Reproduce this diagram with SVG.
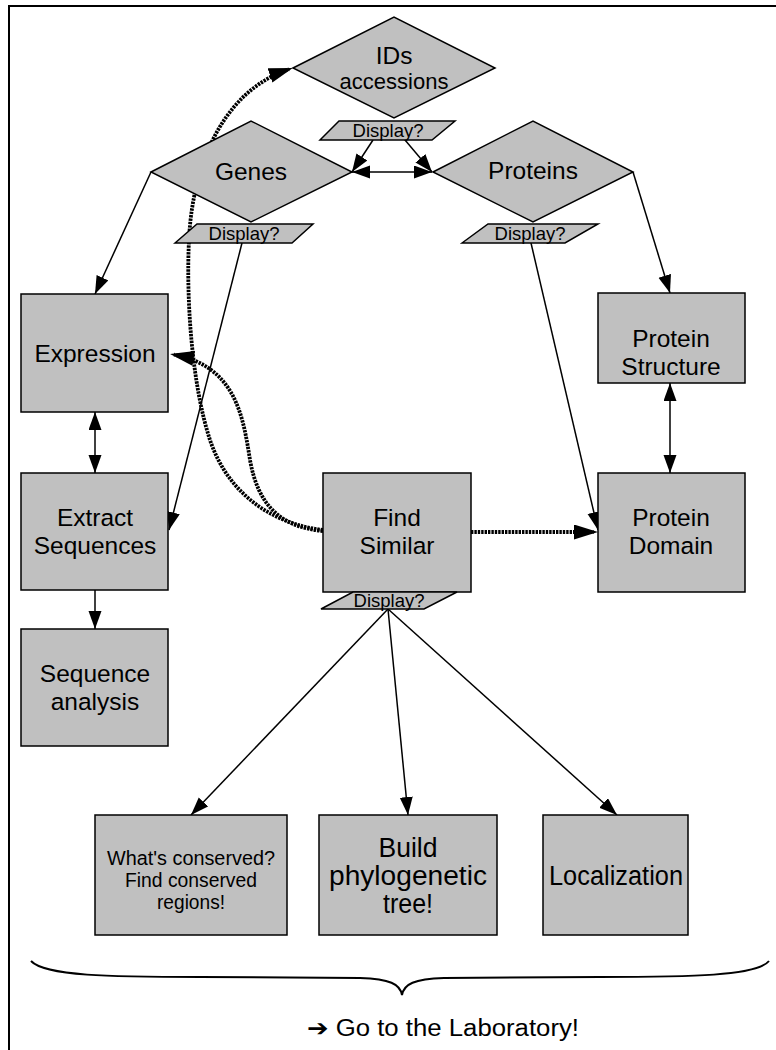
<svg xmlns="http://www.w3.org/2000/svg" width="776" height="1050" viewBox="0 0 776 1050">
<defs>
<marker id="ah" markerUnits="userSpaceOnUse" markerWidth="20" markerHeight="16" refX="18" refY="6.5" orient="auto-start-reverse"><path d="M0,0 L18,6.5 L0,13 z" fill="#000"/></marker>
<marker id="ahd" markerUnits="userSpaceOnUse" markerWidth="26" markerHeight="16" refX="20" refY="7.5" orient="auto"><path d="M0,0 L24,7.5 L0,15 z" fill="#000"/></marker>
<style>
.n{fill:#c0c0c0;stroke:#000;stroke-width:1.5}
.t{font-family:"Liberation Sans",Arial,sans-serif;font-size:24.5px;fill:#000;text-anchor:middle}
.d{font-family:"Liberation Sans",Arial,sans-serif;font-size:18.5px;fill:#000;text-anchor:middle}
.c{fill:none;stroke:#000;stroke-width:1.5}
.a{marker-end:url(#ah)}
.b{marker-start:url(#ah);marker-end:url(#ah)}
.dot{fill:none;stroke:#000;stroke-width:3.8;stroke-dasharray:2.4 1;marker-end:url(#ahd)}
</style>
</defs>
<rect width="776" height="1050" fill="#fff"/>
<path d="M9,1050 V6 H776" fill="none" stroke="#000" stroke-width="2"/>

<g id="connectors">
<line class="c a" x1="373" y1="140" x2="352" y2="172"/>
<line class="c a" x1="405" y1="140" x2="432" y2="172"/>
<line class="c b" x1="352" y1="172" x2="432" y2="172"/>
<line class="c a" x1="151" y1="172" x2="95" y2="294"/>
<line class="c a" x1="242" y1="243" x2="169" y2="530"/>
<line class="c a" x1="531" y1="243" x2="598" y2="530"/>
<line class="c a" x1="633" y1="172" x2="670" y2="293"/>
<line class="c b" x1="95" y1="412" x2="95" y2="473"/>
<line class="c a" x1="95" y1="590" x2="95" y2="629"/>
<line class="c b" x1="670" y1="383" x2="670" y2="473"/>
<line class="c a" x1="388" y1="609" x2="191" y2="815"/>
<line class="c a" x1="388" y1="609" x2="408" y2="815"/>
<line class="c a" x1="388" y1="609" x2="617" y2="815"/>
<path class="dot" d="M471,532 H594"/>
<path class="dot" d="M323,530 C280,525 230,500 210,440 C192,385 186,300 189,240 C192,170 220,92 289,69.2"/>
<path class="dot" d="M323,531 C280,527 258,505 250,460 C243,415 235,366 174,354.7"/>
</g>

<g id="ids">
<polygon class="n" points="293,68 394,17 495,68 394,118"/>
<text class="t" x="394" y="64">IDs</text>
<text class="t" x="394" y="89" style="font-size:22px">accessions</text>
<polygon class="n" points="320,140 339,121 455,121 432,140"/>
<text class="d" x="388" y="137">Display?</text>
</g>

<g id="genes">
<polygon class="n" points="151,172 251,121 352,172 251,222"/>
<text class="t" x="251" y="180">Genes</text>
<polygon class="n" points="175,243 197,224 313,224 292,243"/>
<text class="d" x="244" y="240">Display?</text>
</g>

<g id="proteins">
<polygon class="n" points="433,172 533,121 633,172 533,222"/>
<text class="t" x="533" y="179">Proteins</text>
<polygon class="n" points="462,243 488,224 598,224 565,243"/>
<text class="d" x="530" y="240">Display?</text>
</g>

<g id="expression">
<rect class="n" x="21" y="294" width="147" height="118"/>
<text class="t" x="95" y="362">Expression</text>
</g>

<g id="extract">
<rect class="n" x="21" y="473" width="147" height="117"/>
<text class="t" x="95" y="526">Extract</text>
<text class="t" x="95" y="554">Sequences</text>
</g>

<g id="seqanalysis">
<rect class="n" x="21" y="629" width="147" height="117"/>
<text class="t" x="95" y="682">Sequence</text>
<text class="t" x="95" y="710">analysis</text>
</g>

<g id="findsimilar">
<rect class="n" x="323" y="473" width="148" height="119"/>
<text class="t" x="397" y="526">Find</text>
<text class="t" x="397" y="554">Similar</text>
<polygon class="n" points="321,609 353,592 457,592 424,609"/>
<text class="d" x="389" y="607">Display?</text>
</g>

<g id="structure">
<rect class="n" x="598" y="293" width="147" height="90"/>
<text class="t" x="671" y="347">Protein</text>
<text class="t" x="671" y="375">Structure</text>
</g>

<g id="domain">
<rect class="n" x="598" y="473" width="147" height="119"/>
<text class="t" x="671" y="526">Protein</text>
<text class="t" x="671" y="554">Domain</text>
</g>

<g id="conserved">
<rect class="n" x="95" y="815" width="192" height="120"/>
<text class="t" x="191" y="865" style="font-size:19.5px" textLength="168" lengthAdjust="spacingAndGlyphs">What's conserved?</text>
<text class="t" x="191" y="887" style="font-size:19.5px" textLength="132" lengthAdjust="spacingAndGlyphs">Find conserved</text>
<text class="t" x="191" y="909" style="font-size:19.5px" textLength="68" lengthAdjust="spacingAndGlyphs">regions!</text>
</g>

<g id="phylo">
<rect class="n" x="319" y="815" width="178" height="120"/>
<text class="t" x="408" y="857" style="font-size:27px" textLength="59" lengthAdjust="spacingAndGlyphs">Build</text>
<text class="t" x="408" y="885" style="font-size:27px" textLength="158" lengthAdjust="spacingAndGlyphs">phylogenetic</text>
<text class="t" x="408" y="913" style="font-size:27px" textLength="50" lengthAdjust="spacingAndGlyphs">tree!</text>
</g>

<g id="localization">
<rect class="n" x="543" y="815" width="145" height="120"/>
<text class="t" x="616" y="885" style="font-size:27px" textLength="134" lengthAdjust="spacingAndGlyphs">Localization</text>
</g>

<g id="laboratory">
<path d="M31,961 C45,976 110,977 200,977 L360,978 C390,979 400,984 402,995 C404,984 414,979 444,978 L600,977 C690,977 757,976 769,961" fill="none" stroke="#000" stroke-width="2"/>
<text class="t" x="443" y="1036" style="font-size:23px;font-family:'Liberation Sans','DejaVu Sans',sans-serif" textLength="272" lengthAdjust="spacingAndGlyphs">➔ Go to the Laboratory!</text>
</g>
</svg>
